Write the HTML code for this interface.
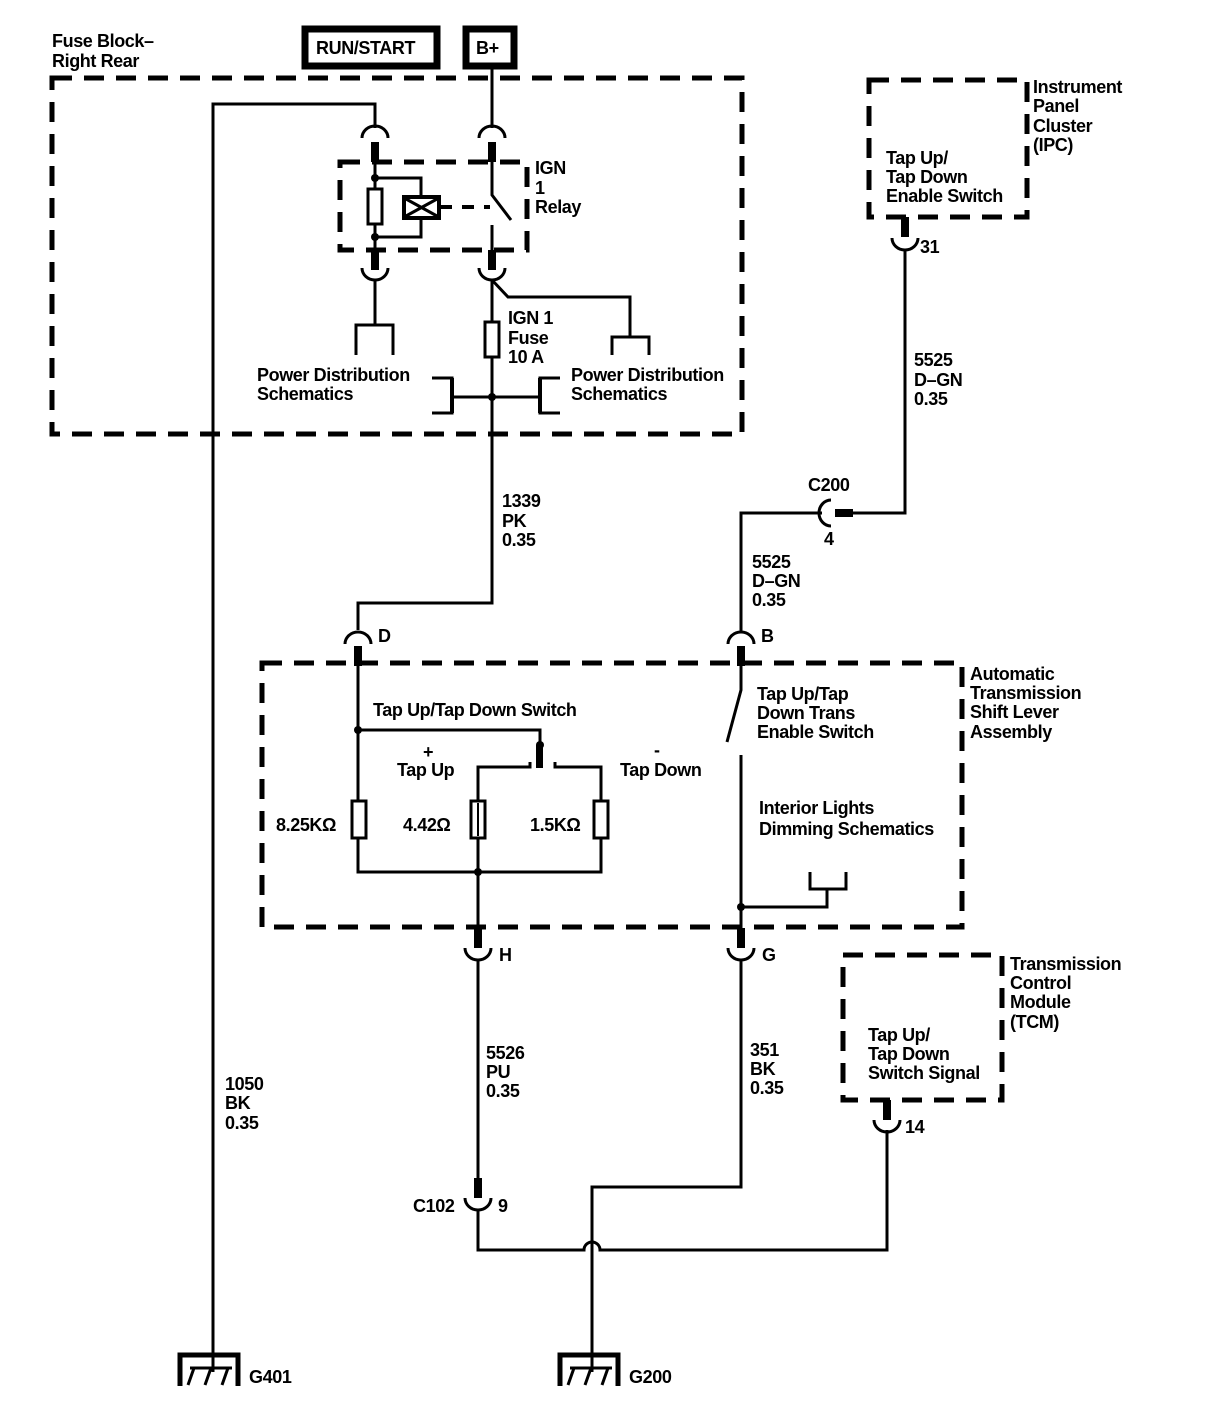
<!DOCTYPE html>
<html><head><meta charset="utf-8"><style>
html,body{margin:0;padding:0;background:#fff}
svg{display:block}
text{font-family:"Liberation Sans",Arial,sans-serif;font-size:18px;font-weight:bold;fill:#000;letter-spacing:-0.4px}
</style></head><body>
<svg width="1216" height="1418" viewBox="0 0 1216 1418" xmlns="http://www.w3.org/2000/svg">
<g fill="none" stroke="#000" stroke-width="3">
<g stroke-width="5" stroke-dasharray="20 12">
<rect x="52" y="78" width="690" height="356"/>
<rect x="340" y="162" width="187" height="88"/>
<rect x="869" y="80" width="158" height="137"/>
<rect x="262" y="663" width="700" height="264"/>
<rect x="843" y="955" width="159" height="145"/>
</g>
<rect x="305" y="29" width="132" height="37" stroke-width="7"/>
<rect x="466" y="29" width="48" height="37" stroke-width="7"/>
<path d="M213 1372 V104 H375 V128"/>
<path d="M492 66 V128"/>
<path d="M362 138 A13 12 0 0 1 388 138"/>
<path d="M479 138 A13 12 0 0 1 505 138"/>
<path d="M375 142 V162" stroke-width="8"/>
<path d="M492 142 V162" stroke-width="8"/>
<path d="M375 162 V250"/>
<rect x="368" y="189" width="14" height="35" fill="#fff"/>
<path d="M375 178 H421 V197 M375 237 H421 V218"/>
<rect x="404" y="197" width="35" height="21" stroke-width="4"/>
<path d="M406 199 L437 216 M406 216 L437 199" stroke-width="3"/>
<path d="M440 207 H490" stroke-width="4" stroke-dasharray="12 10"/>
<path d="M492 162 V195 L511 220 M492 225 V250"/>
<path d="M375 250 V270 M492 250 V270" stroke-width="8"/>
<path d="M362 268 A13 12 0 0 0 388 268"/>
<path d="M479 268 A13 12 0 0 0 505 268"/>
<path d="M375 280 V325 M356 355 V325 H393 V355"/>
<path d="M492 280 V603 H358 V630"/>
<path d="M492 280 L508 297 H630 V337 M612 355 V337 H649 V355"/>
<rect x="485" y="322" width="14" height="35" fill="#fff"/>
<path d="M452 397 H540 M432 378 H452 V413 H432 M560 378 H540 V413 H560" />
<path d="M452 378 V413 M540 378 V413" stroke-width="4"/>
<path d="M345 644 A13 12 0 0 1 371 644"/>
<path d="M358 646 V666" stroke-width="8"/>
<path d="M358 666 V872 H601 V767 H555 V762"/>
<path d="M358 730 H540 V768"/>
<path d="M478 928 V767 H530 V762"/>
<rect x="352" y="801" width="14" height="37" fill="#fff"/>
<rect x="471" y="801" width="14" height="37" fill="#fff"/>
<path d="M478 803 V836" stroke-width="2"/>
<rect x="594" y="801" width="14" height="37" fill="#fff"/>
<path d="M478 928 V948" stroke-width="8"/>
<path d="M465 948 A13 12 0 0 0 491 948"/>
<path d="M478 960 V1178"/>
<path d="M478 1178 V1198" stroke-width="8"/>
<path d="M465 1198 A13 12 0 0 0 491 1198"/>
<path d="M478 1210 V1250 H584 A8 8 0 0 1 600 1250 H887 V1130"/>
<path d="M887 1100 V1120" stroke-width="8"/>
<path d="M874 1120 A13 12 0 0 0 900 1120"/>
<path d="M741 660 V690 L727 742 M741 755 V928"/>
<path d="M741 646 V666" stroke-width="8"/>
<path d="M728 644 A13 12 0 0 1 754 644"/>
<path d="M741 632 V513 H822"/>
<path d="M741 907 H827 V889 M810 872 V889 H846 V872"/>
<path d="M741 928 V948" stroke-width="8"/>
<path d="M728 948 A13 12 0 0 0 754 948"/>
<path d="M741 960 V1187 H592 V1372"/>
<path d="M831 500 A12 13 0 0 0 831 526"/>
<path d="M835 513 H853" stroke-width="8"/>
<path d="M853 513 H905 V250"/>
<path d="M905 217 V237" stroke-width="8"/>
<path d="M892 238 A13 12 0 0 0 918 238"/>
<path d="M180 1386 V1355 H238 V1386" stroke-width="5"/>
<path d="M190 1368 H232 M194 1368 L188 1385 M211 1368 L205 1385 M228 1368 L222 1385"/>
<path d="M560 1386 V1355 H618 V1386" stroke-width="5"/>
<path d="M570 1368 H612 M574 1368 L568 1385 M591 1368 L585 1385 M608 1368 L602 1385"/>
</g>
<g fill="#000">
<circle cx="375" cy="178" r="4"/><circle cx="375" cy="237" r="4"/>
<circle cx="492" cy="397" r="4"/><circle cx="358" cy="730" r="4"/>
<circle cx="540" cy="745" r="4"/><circle cx="478" cy="872" r="4"/>
<circle cx="741" cy="907" r="4"/>
<rect x="536" y="745" width="7" height="23"/>
</g>
<text x="316" y="54">RUN/START</text>
<text x="476" y="54">B+</text>
<text x="52" y="47">Fuse Block–</text>
<text x="52" y="67">Right Rear</text>
<text x="535" y="174">IGN</text><text x="535" y="194">1</text><text x="535" y="213">Relay</text>
<text x="508" y="324">IGN 1</text><text x="508" y="344">Fuse</text><text x="508" y="363">10 A</text>
<text x="257" y="381">Power Distribution</text><text x="257" y="400">Schematics</text>
<text x="571" y="381">Power Distribution</text><text x="571" y="400">Schematics</text>
<text x="1033" y="93">Instrument</text><text x="1033" y="112">Panel</text><text x="1033" y="132">Cluster</text><text x="1033" y="151">(IPC)</text>
<text x="886" y="164">Tap Up/</text><text x="886" y="183">Tap Down</text><text x="886" y="202">Enable Switch</text>
<text x="920" y="253">31</text>
<text x="914" y="366">5525</text><text x="914" y="386">D–GN</text><text x="914" y="405">0.35</text>
<text x="808" y="491">C200</text><text x="824" y="545">4</text>
<text x="502" y="507">1339</text><text x="502" y="527">PK</text><text x="502" y="546">0.35</text>
<text x="752" y="568">5525</text><text x="752" y="587">D–GN</text><text x="752" y="606">0.35</text>
<text x="378" y="642">D</text><text x="761" y="642">B</text>
<text x="970" y="680">Automatic</text><text x="970" y="699">Transmission</text><text x="970" y="718">Shift Lever</text><text x="970" y="738">Assembly</text>
<text x="373" y="716">Tap Up/Tap Down Switch</text>
<text x="423" y="758">+</text><text x="397" y="776">Tap Up</text>
<text x="654" y="756">-</text><text x="620" y="776">Tap Down</text>
<text x="757" y="700">Tap Up/Tap</text><text x="757" y="719">Down Trans</text><text x="757" y="738">Enable Switch</text>
<text x="759" y="814">Interior Lights</text><text x="759" y="835">Dimming Schematics</text>
<text x="276" y="831">8.25KΩ</text><text x="403" y="831">4.42Ω</text><text x="530" y="831">1.5KΩ</text>
<text x="499" y="961">H</text><text x="762" y="961">G</text>
<text x="1010" y="970">Transmission</text><text x="1010" y="989">Control</text><text x="1010" y="1008">Module</text><text x="1010" y="1028">(TCM)</text>
<text x="868" y="1041">Tap Up/</text><text x="868" y="1060">Tap Down</text><text x="868" y="1079">Switch Signal</text>
<text x="905" y="1133">14</text>
<text x="486" y="1059">5526</text><text x="486" y="1078">PU</text><text x="486" y="1097">0.35</text>
<text x="750" y="1056">351</text><text x="750" y="1075">BK</text><text x="750" y="1094">0.35</text>
<text x="225" y="1090">1050</text><text x="225" y="1109">BK</text><text x="225" y="1129">0.35</text>
<text x="413" y="1212">C102</text><text x="498" y="1212">9</text>
<text x="249" y="1383">G401</text><text x="629" y="1383">G200</text>
</svg>
</body></html>
